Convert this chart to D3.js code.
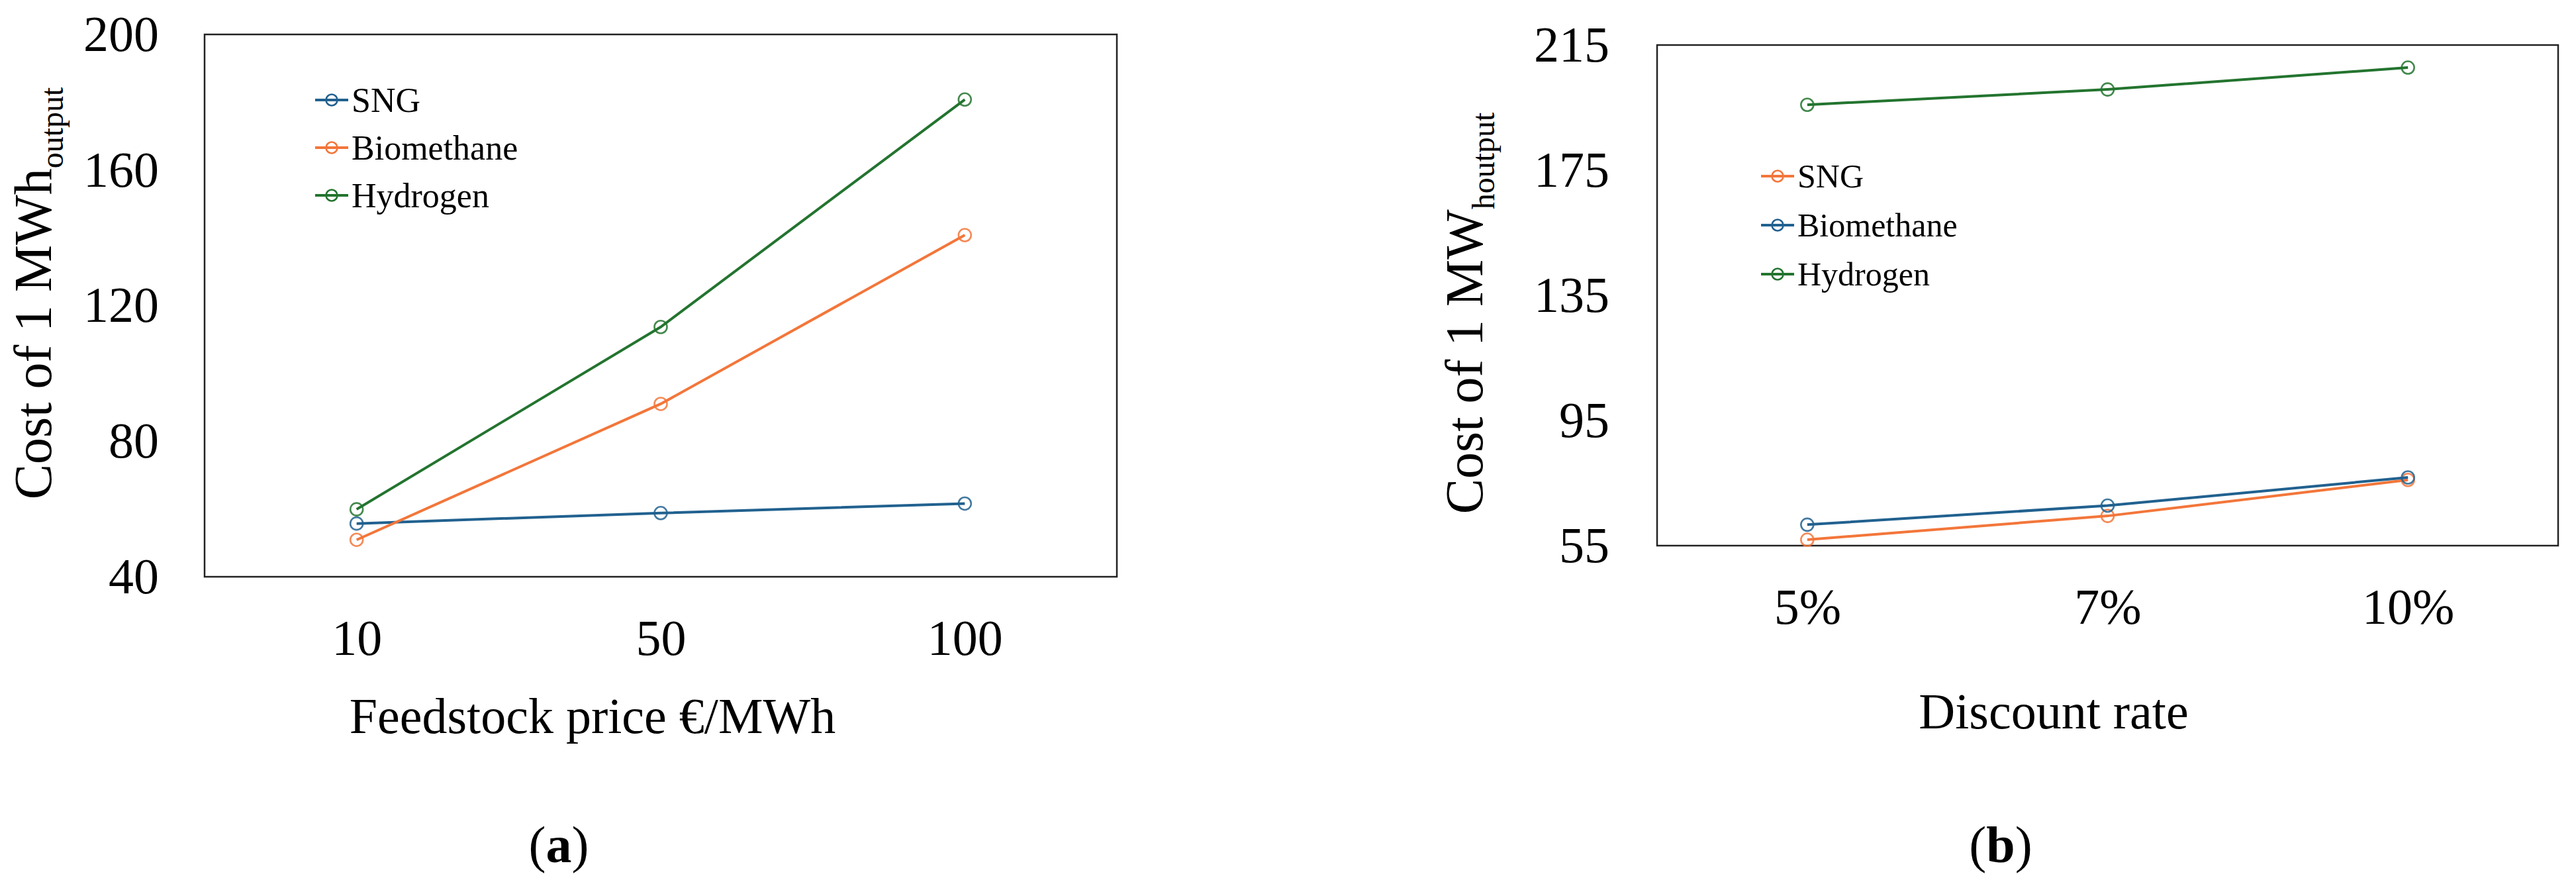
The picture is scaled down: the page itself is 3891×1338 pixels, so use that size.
<!DOCTYPE html>
<html>
<head>
<meta charset="utf-8">
<script src="https://cdn.jsdelivr.net/npm/d3@7"></script>
<style>
  body { margin: 0; background: #fff; }
  svg text { font-family: "Liberation Serif", "Times New Roman", serif; fill: #000; }
</style>
</head>
<body>
<svg id="chart" width="3891" height="1338"></svg>
<script>
// panel (a): feedstock price
const feedstockPrices = ["10", "50", "100"];
const sngA = [55.7, 58.8, 61.6];
const biomethaneA = [50.9, 91.0, 140.8];
const hydrogenA = [59.9, 113.7, 180.8];
const ticksA = [40, 80, 120, 160, 200];

// panel (b): discount rate
const discountRates = ["5%", "7%", "10%"];
const sngB = [56.9, 64.5, 76.0];
const biomethaneB = [61.7, 67.8, 76.8];
const hydrogenB = [195.9, 200.8, 207.8];
const ticksB = [55, 95, 135, 175, 215];

const blue = "#21618f", orange = "#f3763a", green = "#23742f";
const serif = '"Liberation Serif", "Times New Roman", serif';

let svg = d3.select("#chart");

function drawPanel(cfg) {
    let g = svg.append("g");
    let x = d3.scalePoint().domain(cfg.cats).range([cfg.left, cfg.right]).padding(0.5);
    let y = d3.scaleLinear().domain(d3.extent(cfg.ticks)).range([cfg.bottom, cfg.top]);

    // y axis labels
    let ya = g.append("g").attr("transform", `translate(${cfg.left},0)`)
        .call(d3.axisLeft(y).tickValues(cfg.ticks).tickSize(0).tickPadding(cfg.yPad).tickFormat(d3.format("d")));
    ya.select(".domain").remove();
    ya.attr("font-family", null).attr("font-size", null).style("font-family", serif);
    ya.selectAll("text").style("font-size", "76px").style("font-family", serif);

    // x axis labels
    let xa = g.append("g").attr("transform", `translate(0,${cfg.bottom})`)
        .call(d3.axisBottom(x).tickSize(0).tickPadding(64));
    xa.select(".domain").remove();
    xa.attr("font-family", null).attr("font-size", null).style("font-family", serif);
    xa.selectAll("text").style("font-size", "76px").style("font-family", serif);

    // frame
    g.append("rect")
        .attr("x", cfg.left).attr("y", cfg.top)
        .attr("width", cfg.right - cfg.left).attr("height", cfg.bottom - cfg.top)
        .attr("fill", "none").attr("stroke", "#222").attr("stroke-width", 2.5);

    let line = d3.line().x((d, i) => x(cfg.cats[i])).y(d => y(d));

    cfg.series.forEach(s => {
        g.append("path").datum(s.values)
            .attr("d", line)
            .attr("fill", "none").attr("stroke", s.color).attr("stroke-width", 4);
        g.selectAll(null).data(s.values).enter()
            .append("circle")
            .attr("cx", (d, i) => x(cfg.cats[i]))
            .attr("cy", d => y(d))
            .attr("r", 9.5)
            .attr("fill", "none").attr("stroke", s.color).attr("stroke-width", 2.6).attr("stroke-opacity", 0.85);
    });

    // legend
    let lg = g.append("g").attr("transform", `translate(${cfg.legX},${cfg.legY})`);
    cfg.series.forEach((s, i) => {
        let row = lg.append("g").attr("transform", `translate(0,${i * cfg.legStep})`);
        row.append("line").attr("x1", 0).attr("x2", 50).attr("y1", 0).attr("y2", 0)
            .attr("stroke", s.color).attr("stroke-width", 4);
        row.append("circle").attr("cx", 25).attr("cy", 0).attr("r", 8.5)
            .attr("fill", "none").attr("stroke", s.color).attr("stroke-width", 2.6);
        row.append("text").attr("x", 55).attr("y", 0).attr("dy", "0.34em")
            .style("font-size", cfg.legFont + "px").text(s.name);
    });

    // y title
    let yt = g.append("text")
        .attr("transform", `translate(${cfg.yTitleX},${cfg.yTitleY}) rotate(-90)`)
        .attr("text-anchor", "middle")
        .style("font-size", "80px");
    yt.append("tspan").text(cfg.yTitle);
    yt.append("tspan").attr("dy", 18).style("font-size", "48px").text(cfg.ySub);

    // x title
    g.append("text").attr("x", cfg.xTitleX).attr("y", cfg.xTitleY)
        .attr("text-anchor", "middle").style("font-size", "76px").text(cfg.xTitle);

    // panel label
    let pl = g.append("text").attr("x", cfg.labelX).attr("y", 1302)
        .attr("text-anchor", "middle").style("font-size", "78px");
    pl.append("tspan").text("(");
    pl.append("tspan").attr("font-weight", "bold").text(cfg.label);
    pl.append("tspan").text(")");
}

drawPanel({
    left: 309, top: 52, right: 1687, bottom: 871,
    cats: feedstockPrices, ticks: ticksA, yPad: 69,
    series: [
        { name: "SNG", values: sngA, color: blue },
        { name: "Biomethane", values: biomethaneA, color: orange },
        { name: "Hydrogen", values: hydrogenA, color: green }
    ],
    legX: 476, legY: 151, legStep: 72, legFont: 52,
    yTitle: "Cost of 1 MWh", ySub: "output", yTitleX: 77, yTitleY: 443,
    xTitle: "Feedstock price €/MWh", xTitleX: 895, xTitleY: 1107,
    label: "a", labelX: 844
});

drawPanel({
    left: 2503, top: 68, right: 3864, bottom: 824,
    cats: discountRates, ticks: ticksB, yPad: 72,
    series: [
        { name: "SNG", values: sngB, color: orange },
        { name: "Biomethane", values: biomethaneB, color: blue },
        { name: "Hydrogen", values: hydrogenB, color: green }
    ],
    legX: 2660, legY: 266, legStep: 74, legFont: 50,
    yTitle: "Cost of 1 MW", ySub: "houtput", yTitleX: 2239, yTitleY: 473,
    xTitle: "Discount rate", xTitleX: 3102, xTitleY: 1100,
    label: "b", labelX: 3022
});
</script>
</body>
</html>
